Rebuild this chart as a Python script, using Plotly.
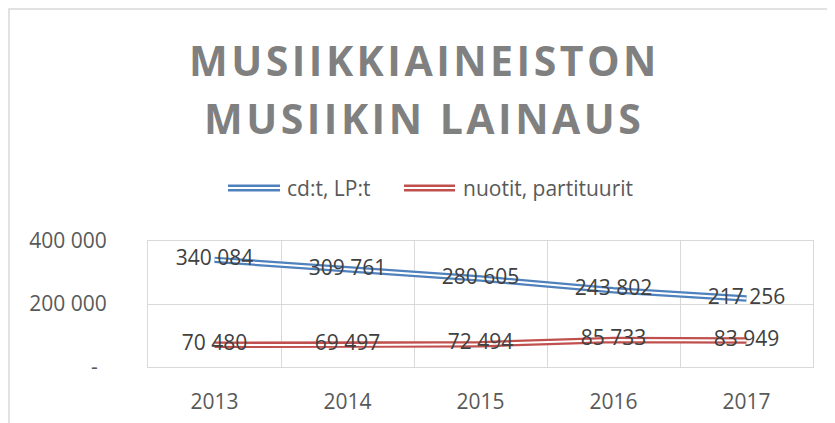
import plotly.graph_objects as go

years = ["2013", "2014", "2015", "2016", "2017"]
cd_lp = [340084, 309761, 280605, 243802, 217256]
nuotit = [70480, 69497, 72494, 85733, 83949]
series_names = ["cd:t, LP:t", "nuotit, partituurit"]
series_colors = ["#4F81BD", "#C0504D"]
y_tickvals = [0, 200000, 400000]
y_ticktext = ["-\u00a0\u2009", "200 000", "400 000"]
title_lines = ["MUSIIKKIAINEISTON", "MUSIIKIN LAINAUS"]

OFF = 8  # page body margin
W, H = 835 - OFF, 423 - OFF
L, R, T, B = 148 - OFF, 813 - OFF, 241 - OFF, 367 - OFF
FONT = "Open Sans"

def px(x):
    return (x - OFF - L) / (R - L)

def py(y):
    return (B - (y - OFF)) / (B - T)

fig = go.Figure()
for vals, color in zip([cd_lp, nuotit], series_colors):
    fig.add_trace(go.Scatter(x=years, y=vals, mode="lines",
                             line=dict(color=color, width=6.5), showlegend=False, hoverinfo="skip"))
    fig.add_trace(go.Scatter(x=years, y=vals, mode="lines",
                             line=dict(color="white", width=2), showlegend=False, hoverinfo="skip"))
for vals in [cd_lp, nuotit]:
    fig.add_trace(go.Scatter(x=years, y=vals, mode="text", texttemplate="%{y:,}",
                             textposition="middle center",
                             textfont=dict(family=FONT, size=21, color="#404040"),
                             showlegend=False))

shapes = []
shapes.append(dict(type="rect", xref="paper", yref="paper",
                   x0=px(9), x1=px(850), y0=py(9), y1=py(440),
                   line=dict(color="#D9D9D9", width=1.5), fillcolor="rgba(0,0,0,0)", layer="below"))

annotations = []
for line, yc in zip(title_lines, [60, 118]):
    annotations.append(dict(xref="paper", yref="paper", x=px(424), y=py(yc),
                            xanchor="center", yanchor="middle", showarrow=False,
                            text=f"<span style='letter-spacing:3.5px'>{line}</span>",
                            font=dict(family=FONT, size=41, color="#808080", weight="bold")))
leg_y = py(188)
for name, color, x0, x1, tx in zip(series_names, series_colors, [228, 404], [280, 455], [285, 461]):
    shapes.append(dict(type="line", xref="paper", yref="paper", x0=px(x0), x1=px(x1),
                       y0=leg_y, y1=leg_y, line=dict(color=color, width=7)))
    shapes.append(dict(type="line", xref="paper", yref="paper", x0=px(x0), x1=px(x1),
                       y0=leg_y, y1=leg_y, line=dict(color="white", width=2.2)))
    annotations.append(dict(xref="paper", yref="paper", x=px(tx), y=leg_y,
                            xanchor="left", yanchor="middle", showarrow=False, text=name,
                            font=dict(family=FONT, size=21, color="#595959")))

fig.update_layout(
    template="none",
    width=W, height=H,
    margin=dict(l=L, r=W - R, t=T, b=H - B, autoexpand=False),
    paper_bgcolor="white", plot_bgcolor="white",
    separators=", ",
    shapes=shapes, annotations=annotations,
    showlegend=False,
    font=dict(family=FONT, size=21, color="#595959"),
)
fig.update_xaxes(type="category", range=[-0.5, 4.5], tickson="boundaries", automargin=False,
                 showgrid=True, gridcolor="#D9D9D9", gridwidth=1,
                 showline=True, mirror=True, linecolor="#D9D9D9", linewidth=1,
                 ticks="", ticklabelstandoff=16,
                 tickfont=dict(family=FONT, size=21, color="#595959"))
fig.update_yaxes(range=[0, 400000], tickvals=y_tickvals, ticktext=y_ticktext, automargin=False,
                 showgrid=True, gridcolor="#D9D9D9", gridwidth=1,
                 showline=True, mirror=True, linecolor="#D9D9D9", linewidth=1,
                 zeroline=False, ticks="", ticklabelstandoff=36,
                 tickfont=dict(family=FONT, size=21, color="#595959"))

fig.write_html("out.html")
